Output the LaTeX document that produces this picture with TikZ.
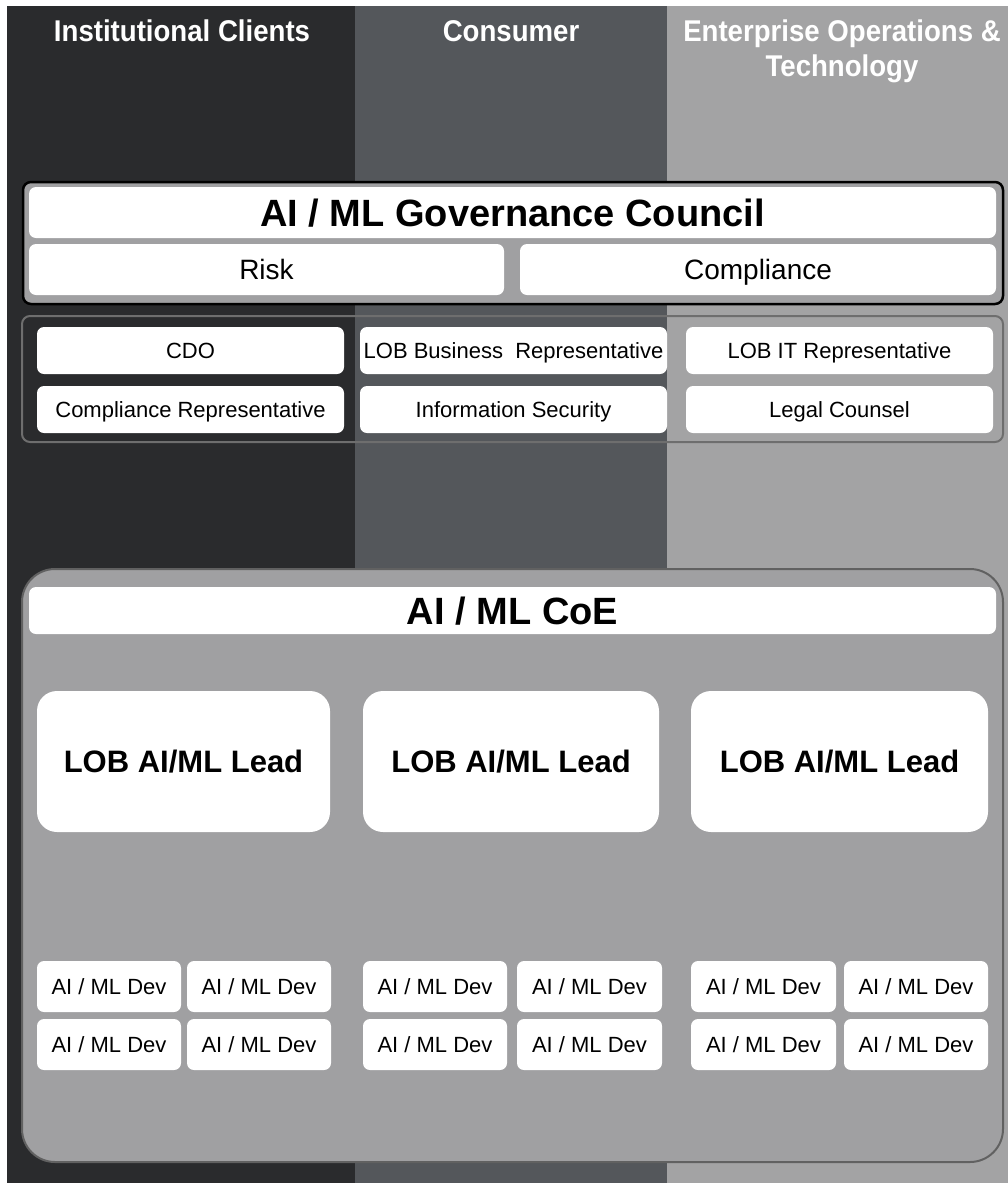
\documentclass[tikz,border=0pt]{standalone}
\usepackage{fontspec}
\setmainfont{Liberation Sans}
\newfontfamily\hdrfont[FakeStretch=0.92]{Liberation Sans Bold}
\definecolor{colA}{HTML}{2A2B2D}
\definecolor{colB}{HTML}{54575B}
\definecolor{colC}{HTML}{A3A3A4}
\definecolor{panel}{HTML}{A0A0A2}
\definecolor{frameg}{HTML}{6E6E6E}
\definecolor{coeg}{HTML}{616161}
\newcommand\fsz[1]{\fontsize{#1}{#1}\selectfont}
% name, x1, y1, x2, y2, style, text
\newcommand\ubox[7]{%
  \pgfmathsetmacro\bw{#4-#2}\pgfmathsetmacro\bh{#5-#3}%
  \node[#6, minimum width=\bw pt, minimum height=\bh pt] (#1) at ({(#2+#4)/2},{(#3+#5)/2}) {#7};}
\begin{document}
\begin{tikzpicture}[x=1pt,y=-1pt,
  wbox/.style={fill=white, rounded corners=7pt, inner sep=0pt},
  titletext/.style={font=\fsz{38}\bfseries, text height=27.2pt, text depth=0pt},
  subtext/.style={font=\fsz{28}, text height=20pt, text depth=0pt},
  memtext/.style={font=\fsz{22}, text height=15.8pt, text depth=0pt},
  leadbox/.style={wbox, rounded corners=20pt, font=\fsz{31}\bfseries, text height=22.2pt, text depth=0pt},
  hdr/.style={text=white, inner sep=0pt, font=\hdrfont\fontsize{30}{35}\selectfont, align=center}]
\useasboundingbox (0,0) rectangle (1008,1183);
% columns
\fill[colA] (7,6) rectangle (355,1183);
\fill[colB] (355,6) rectangle (667,1183);
\fill[colC] (667,6) rectangle (1008,1183);
% headers
\node[hdr, anchor=base] (h1) at (182,41) {Institutional Clients};
\node[hdr, anchor=base] (h2) at (511,41) {Consumer};
\node[hdr] (h3) at (842,51) {Enterprise Operations \&\\Technology};
% governance council
\draw[line width=2.5pt, fill=panel, rounded corners=8pt] (23,182) rectangle (1003,304);
\ubox{gov}{29}{187}{996}{238}{wbox, titletext}{AI / ML Governance Council}
\ubox{risk}{29}{244}{504}{295}{wbox, subtext}{Risk}
\ubox{comp}{520}{244}{996}{295}{wbox, subtext}{Compliance}
% members
\draw[line width=2pt, draw=frameg, rounded corners=8pt] (22,316) rectangle (1003,442);
\ubox{cdo}{37}{327}{344}{374}{wbox, memtext}{CDO}
\ubox{crep}{37}{386}{344}{433}{wbox, memtext}{Compliance Representative}
\ubox{lobbus}{360}{327}{667}{374}{wbox, memtext}{LOB Business\ \ Representative}
\ubox{infosec}{360}{386}{667}{433}{wbox, memtext}{Information Security}
\ubox{lobit}{686}{327}{993}{374}{wbox, memtext}{LOB IT Representative}
\ubox{legal}{686}{386}{993}{433}{wbox, memtext}{Legal Counsel}
% CoE
\draw[line width=2pt, draw=coeg, fill=panel, rounded corners=33pt] (22,569) rectangle (1003,1162);
\ubox{coe}{29}{587}{996}{634}{wbox, titletext}{AI / ML CoE}
\ubox{leadA}{37}{691}{330}{832}{leadbox}{LOB AI/ML Lead}
\ubox{leadB}{363}{691}{659}{832}{leadbox}{LOB AI/ML Lead}
\ubox{leadC}{691}{691}{988}{832}{leadbox}{LOB AI/ML Lead}
% devs
\ubox{d11}{37}{961}{181}{1012}{wbox, memtext}{AI / ML Dev}
\ubox{d12}{187}{961}{331}{1012}{wbox, memtext}{AI / ML Dev}
\ubox{d13}{37}{1019}{181}{1070}{wbox, memtext}{AI / ML Dev}
\ubox{d14}{187}{1019}{331}{1070}{wbox, memtext}{AI / ML Dev}
\ubox{d21}{363}{961}{507}{1012}{wbox, memtext}{AI / ML Dev}
\ubox{d22}{517}{961}{662}{1012}{wbox, memtext}{AI / ML Dev}
\ubox{d23}{363}{1019}{507}{1070}{wbox, memtext}{AI / ML Dev}
\ubox{d24}{517}{1019}{662}{1070}{wbox, memtext}{AI / ML Dev}
\ubox{d31}{691}{961}{836}{1012}{wbox, memtext}{AI / ML Dev}
\ubox{d32}{844}{961}{988}{1012}{wbox, memtext}{AI / ML Dev}
\ubox{d33}{691}{1019}{836}{1070}{wbox, memtext}{AI / ML Dev}
\ubox{d34}{844}{1019}{988}{1070}{wbox, memtext}{AI / ML Dev}
\end{tikzpicture}
\end{document}
